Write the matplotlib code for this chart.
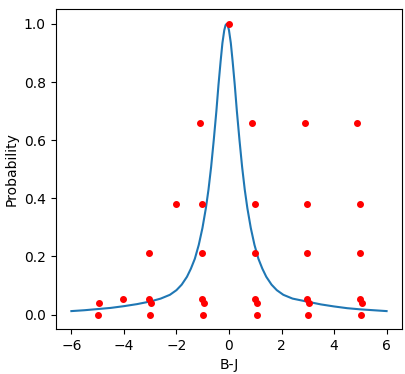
import numpy as np
import matplotlib
matplotlib.use("Agg")
import matplotlib.pyplot as plt

# observed points (B-J, probability)
obs_x = [0.0,
         -1.09, 0.89, 2.9, 4.88,
         -2.02, -1.03, 1.0, 2.98, 4.99,
         -3.03, -1.03, 1.0, 2.98, 4.99,
         -4.02, -3.04, -1.03, 1.0, 2.98, 4.99,
         -4.93, -2.95, -0.94, 1.05, 3.05, 5.08,
         -4.97, -3.0, -0.99, 1.05, 3.02, 5.03]
obs_y = [1.0,
         0.66, 0.66, 0.66, 0.66,
         0.38, 0.38, 0.38, 0.38, 0.38,
         0.212, 0.212, 0.212, 0.212, 0.212,
         0.052, 0.052, 0.052, 0.052, 0.052, 0.052,
         0.041, 0.041, 0.041, 0.041, 0.041, 0.041,
         0.0, 0.0, 0.0, 0.0, 0.0, 0.0]

# fitted curve
curve_x = [-6.0, -5.5, -5.0, -4.5, -4.0, -3.5, -3.0, -2.6, -2.25, -2.0,
           -1.8, -1.6, -1.45, -1.3, -1.15, -1.01, -0.88, -0.78, -0.68, -0.58,
           -0.48, -0.40, -0.32, -0.25, -0.18, -0.13, -0.09, -0.05, 0.0, 0.07,
           0.14, 0.22, 0.30, 0.40, 0.50, 0.60, 0.70, 0.83, 0.97, 1.12,
           1.27, 1.42, 1.62, 1.82, 2.07, 2.42, 2.9, 3.5, 4.0, 4.5,
           5.0, 5.5, 6.0]
curve_y = [0.012, 0.015, 0.019, 0.023, 0.029, 0.036, 0.045, 0.055, 0.068, 0.084,
           0.103, 0.13, 0.158, 0.192, 0.24, 0.298, 0.366, 0.43, 0.508, 0.60,
           0.70, 0.79, 0.87, 0.934, 0.978, 0.9956, 1.0, 0.9956, 0.978, 0.934,
           0.87, 0.79, 0.70, 0.60, 0.508, 0.43, 0.366, 0.298, 0.24, 0.192,
           0.158, 0.13, 0.103, 0.084, 0.068, 0.055, 0.046, 0.035, 0.028, 0.022,
           0.018, 0.015, 0.012]

fig = plt.figure(figsize=(4.06, 3.74), dpi=100)
ax = fig.add_axes([0.137, 0.120, 0.854, 0.855])
ax.scatter(obs_x, obs_y, s=16, color='red', zorder=3)
ax.plot(curve_x, curve_y, color='C0', lw=1.5)
ax.set_xlabel('B-J')
ax.set_ylabel('Probability')
fig.savefig('out.png', dpi=100)
